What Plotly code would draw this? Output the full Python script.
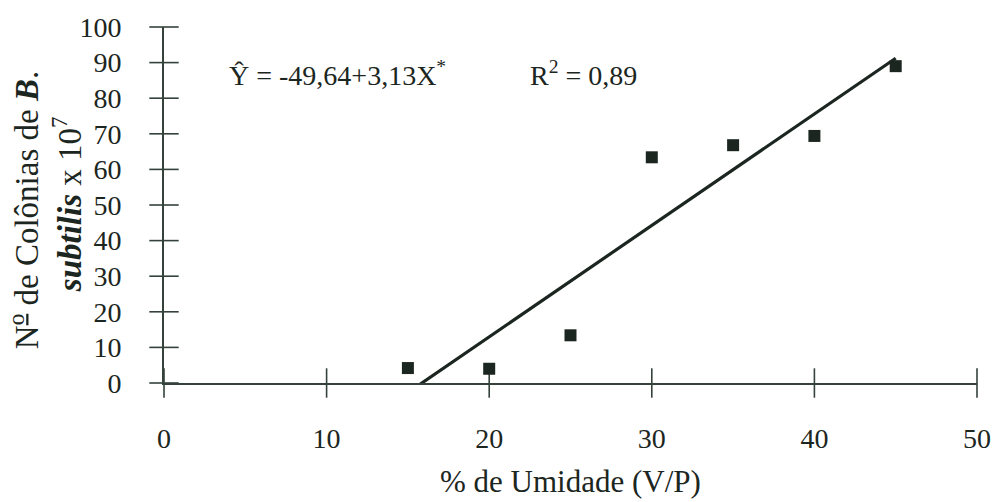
import plotly.graph_objects as go

# Data
umidade = [15, 20, 25, 30, 35, 40, 45]
colonias = [4.2, 4.0, 13.4, 63.4, 66.8, 69.4, 89.0]

# Regression coefficients (from the equation shown in the chart)
b0 = -49.64
b1 = 3.13
fit_x = [15.5, 45.0]
fit_y = [b0 + b1 * v for v in fit_x]

x_ticks = [0, 10, 20, 30, 40, 50]
y_ticks = [0, 10, 20, 30, 40, 50, 60, 70, 80, 90, 100]

FONT = "Liberation Serif, Times New Roman, serif"
INK = "#1c2621"
AXC = "#34423b"

fig = go.Figure()

# crossing tick marks (drawn at the axis tick values)
fig.add_trace(go.Scatter(
    x=x_ticks, y=[0] * len(x_ticks), mode="markers", cliponaxis=False,
    marker=dict(symbol="line-ns", size=21, color=AXC,
                line=dict(color=AXC, width=1.6)),
    showlegend=False, hoverinfo="skip"))
fig.add_trace(go.Scatter(
    x=[0] * len(y_ticks), y=y_ticks, mode="markers", cliponaxis=False,
    marker=dict(symbol="line-ew", size=21, color=AXC,
                line=dict(color=AXC, width=1.6)),
    showlegend=False, hoverinfo="skip"))

fig.add_trace(go.Scatter(
    x=fit_x, y=fit_y, mode="lines",
    line=dict(color=INK, width=3.2),
    showlegend=False, hoverinfo="skip"))

fig.add_trace(go.Scatter(
    x=umidade, y=colonias, mode="markers",
    marker=dict(symbol="square", size=12, color=INK),
    showlegend=False))

fig.update_layout(
    width=1003, height=502,
    margin=dict(l=164, r=15, t=25, b=119),
    paper_bgcolor="white", plot_bgcolor="white",
    font=dict(family=FONT, color=INK),
    xaxis=dict(range=[0, 50], tickvals=x_ticks, showgrid=False, zeroline=False,
               showline=True, linecolor=AXC, linewidth=1.6,
               ticks="outside", ticklen=30, tickcolor="rgba(0,0,0,0)",
               tickfont=dict(family=FONT, size=28, color=INK)),
    yaxis=dict(range=[0, 100], tickvals=y_ticks, showgrid=False, zeroline=False,
               showline=True, linecolor=AXC, linewidth=1.6,
               ticks="outside", ticklen=35, tickcolor="rgba(0,0,0,0)",
               tickfont=dict(family=FONT, size=28, color=INK)),
)

annots = [
    dict(text="Ŷ = -49,64+3,13X<sup>*</sup>", x=3.9, y=87, xref="x", yref="y",
         xanchor="left", yanchor="middle", showarrow=False,
         font=dict(family=FONT, size=28, color=INK)),
    dict(text="R<sup>2</sup> = 0,89", x=22.4, y=87, xref="x", yref="y",
         xanchor="left", yanchor="middle", showarrow=False,
         font=dict(family=FONT, size=28, color=INK)),
    dict(text="% de Umidade (V/P)", x=0.5, y=-0.278, xref="paper", yref="paper",
         xanchor="center", yanchor="middle", showarrow=False,
         font=dict(family=FONT, size=31, color=INK)),
    dict(text="N<sup><u>o</u></sup> de Colônias de <b><i>B</i></b>.",
         x=-0.172, y=0.486, xref="paper", yref="paper", textangle=-90,
         xanchor="center", yanchor="middle", showarrow=False,
         font=dict(family=FONT, size=33, color=INK)),
    dict(text="<b><i>subtilis</i></b> x 10<sup>7</sup>",
         x=-0.119, y=0.503, xref="paper", yref="paper", textangle=-90,
         xanchor="center", yanchor="middle", showarrow=False,
         font=dict(family=FONT, size=33, color=INK)),
]
fig.update_layout(annotations=annots)

fig.write_html("out.html")
